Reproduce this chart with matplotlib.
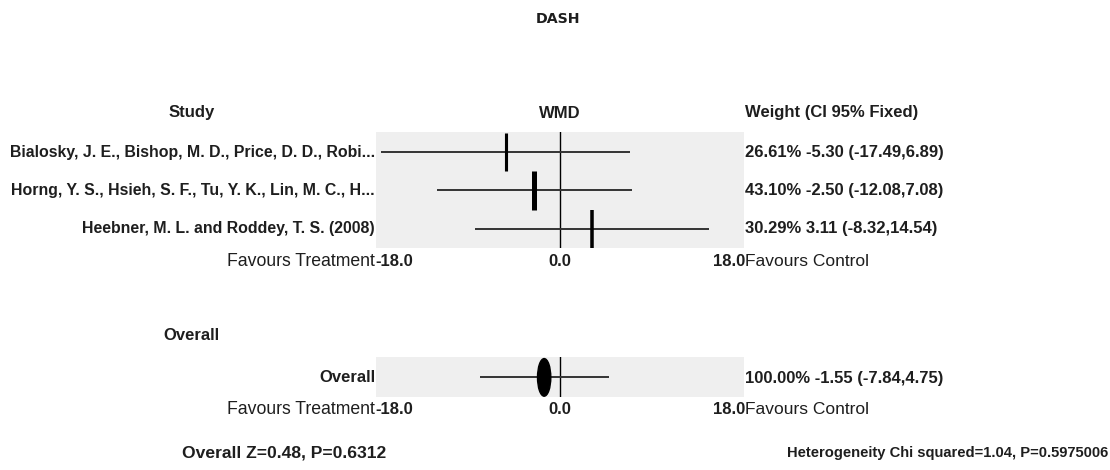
import matplotlib
matplotlib.use("Agg")
import matplotlib.pyplot as plt
from matplotlib.patches import Ellipse

# ---- data ----
title = "DASH"
studies = [
    "Bialosky, J. E., Bishop, M. D., Price, D. D., Robi...",
    "Horng, Y. S., Hsieh, S. F., Tu, Y. K., Lin, M. C., H...",
    "Heebner, M. L. and Roddey, T. S. (2008)",
]
wmd = [-5.30, -2.50, 3.11]
ci_low = [-17.49, -12.08, -8.32]
ci_high = [6.89, 7.08, 14.54]
weights = [26.61, 43.10, 30.29]

overall_wmd = -1.55
overall_low = -7.84
overall_high = 4.75
overall_weight = 100.00

tick_labels = ["-18.0", "0.0", "18.0"]
left_label = "Favours Treatment"
right_label = "Favours Control"
overall_stat = "Overall Z=0.48, P=0.6312"
hetero_stat = "Heterogeneity Chi squared=1.04, P=0.5975006"

# ---- figure ----
W, H = 1110, 470
DPI = 100
fig = plt.figure(figsize=(W / DPI, H / DPI), dpi=DPI)
fig.patch.set_facecolor("white")

FONT = "Liberation Sans"
FS = 12
TXT = "#1e1e1e"
PANEL = "#efefef"
LINE = "#333333"


def fx(x):
    return x / W


def fy(y):
    return 1 - y / H


def txt(x, y, s, ha="left", bold=True, size=FS, family=FONT):
    fig.text(fx(x), fy(y), s, ha=ha, va="center", fontsize=size,
             fontweight="bold" if bold else "normal", color=TXT,
             family=family)


xmin = float(tick_labels[0])
xmax = float(tick_labels[-1])

# panel geometry in pixels
PX_L, PX_R = 376, 744


def make_axes(top, bottom):
    ax = fig.add_axes([fx(PX_L), fy(bottom), (PX_R - PX_L) / W, (bottom - top) / H])
    ax.set_facecolor(PANEL)
    ax.set_xlim(xmin, xmax)
    for s in ax.spines.values():
        s.set_visible(False)
    ax.set_xticks([])
    ax.set_yticks([])
    return ax


# upper panel: studies
ax1 = make_axes(132, 248)
n = len(studies)
ax1.set_ylim(n - 0.5, -0.52)
ax1.axvline(0, color="black", lw=1.0, zorder=2)
for i in range(n):
    ax1.hlines(i, ci_low[i], ci_high[i], color=LINE, lw=1.4, zorder=3)
    ax1.vlines(wmd[i], i - 0.5, i + 0.5, color="black",
               lw=weights[i] / 8.6 * 0.72, zorder=4)

# lower panel: overall
ax2 = make_axes(357, 397)
ax2.set_ylim(0.5, -0.52)
ax2.axvline(0, color="black", lw=1.0, zorder=2)
ax2.hlines(0, overall_low, overall_high, color=LINE, lw=1.4, zorder=3)
ax2.add_patch(Ellipse((overall_wmd, 0), width=1.3, height=0.96,
                      facecolor="black", edgecolor="black", zorder=4))

# ---- texts ----
txt(558, 19, title, ha="center", size=10.2, family="DejaVu Sans")
txt(192, 113, "Study", ha="center")
txt(560, 113, "WMD", ha="center")
txt(745, 113, "Weight (CI 95% Fixed)")

row_y = [152, 191, 229]
for i in range(n):
    txt(375, row_y[i], studies[i], ha="right", size=11.4)
    txt(745, row_y[i],
        f"{weights[i]:.2f}% {wmd[i]:.2f} ({ci_low[i]:.2f},{ci_high[i]:.2f})")


def axis_labels(y):
    txt(375, y, left_label, ha="right", bold=False, size=12.7)
    txt(375, y, tick_labels[0], ha="left")
    txt(560, y, tick_labels[1], ha="center")
    txt(745, y, tick_labels[2], ha="right")
    txt(745, y, right_label, ha="left", bold=False, size=12.5)


axis_labels(261)

txt(163, 336, "Overall")
txt(375, 378, "Overall", ha="right")
txt(745, 378,
    f"{overall_weight:.2f}% {overall_wmd:.2f} ({overall_low:.2f},{overall_high:.2f})")
axis_labels(410)

txt(182, 453, overall_stat, size=12.6)
txt(787, 453, hetero_stat, size=10.6)

fig.savefig("out.png", dpi=DPI, facecolor="white")
